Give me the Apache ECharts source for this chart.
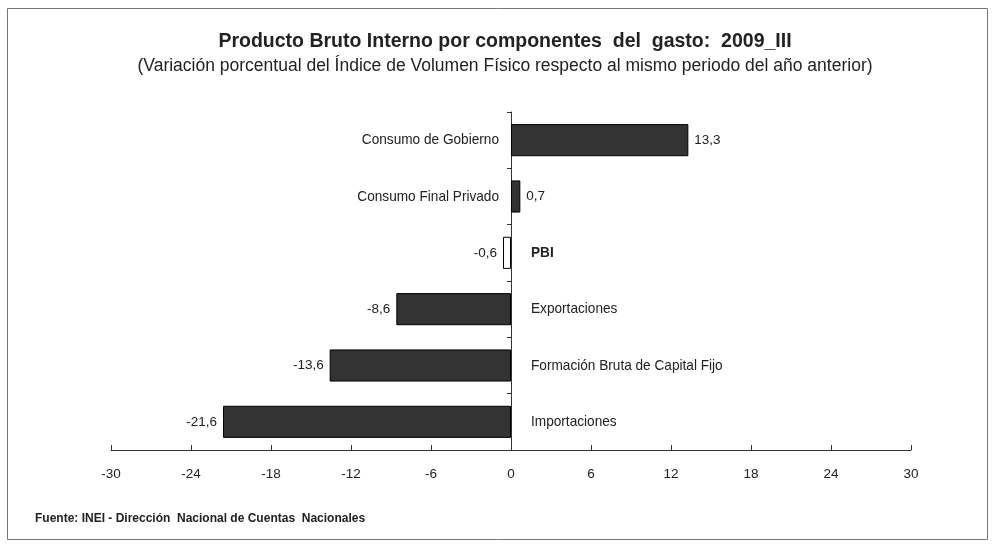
<!DOCTYPE html>
<html>
<head>
<meta charset="utf-8">
<script src="https://cdn.jsdelivr.net/npm/echarts@6/dist/echarts.min.js"></script>
<style>
html,body{margin:0;padding:0;background:#fff;}
#chart{width:996px;height:548px;}
</style>
</head>
<body>
<div id="chart"></div>
<script>
var categories = ['Consumo de Gobierno', 'Consumo Final Privado', 'PBI', 'Exportaciones', 'Formación Bruta de Capital Fijo', 'Importaciones'];
var values = [13.3, 0.7, -0.6, -8.6, -13.6, -21.6];
var highlight = ['PBI'];
var xTicks = [-30, -24, -18, -12, -6, 0, 6, 12, 18, 24, 30];

var FONT = '"Liberation Sans Narrow", "Arial Narrow", "Liberation Sans", Arial, sans-serif';
var chart = echarts.init(document.getElementById('chart'));

function fmt(v){ return v.toFixed(1).replace('.', ','); }

var barData = values.map(function(v, i){
  var isHi = highlight.indexOf(categories[i]) >= 0;
  return {
    value: v,
    itemStyle: { color: isHi ? '#ffffff' : '#333333', borderColor: '#000', borderWidth: 1 },
    label: { position: v >= 0 ? 'right' : 'left' }
  };
});

var option = {
  animation: false,
  backgroundColor: '#fff',
  title: [{
    text: 'Producto Bruto Interno por componentes  del  gasto:  2009_III',
    left: 500, top: 27, textAlign: 'center',
    textStyle: { fontFamily: FONT, fontSize: 19.5, fontWeight: 'bold', color: '#222' }
  }, {
    text: '(Variación porcentual del Índice de Volumen Físico respecto al mismo periodo del año anterior)',
    left: 500, top: 52, textAlign: 'center',
    textStyle: { fontFamily: FONT, fontSize: 17.5, fontWeight: 'normal', color: '#222' }
  }, {
    text: 'Fuente: INEI - Dirección  Nacional de Cuentas  Nacionales',
    left: 30, top: 508,
    textStyle: { fontFamily: FONT, fontSize: 12, fontWeight: 'bold', color: '#222' }
  }],
  graphic: [{
    type: 'rect', shape: { x: 7.5, y: 8.5, width: 980, height: 531 },
    style: { fill: 'none', stroke: '#777', lineWidth: 1 }, silent: true
  }],
  grid: { left: 111, right: 85, top: 112, bottom: 98 },
  xAxis: {
    type: 'value', min: -30, max: 30, interval: 6,
    axisLine: { show: true, lineStyle: { color: '#333', width: 1 } },
    axisTick: { show: true, inside: true, length: 5, lineStyle: { color: '#333' } },
    splitLine: { show: false },
    axisLabel: { fontFamily: FONT, fontSize: 13.5, color: '#222', margin: 17,
      customValues: xTicks }
  },
  yAxis: {
    type: 'category', data: categories, inverse: true,
    axisLine: { show: true, onZero: true, lineStyle: { color: '#333', width: 1 } },
    axisTick: { show: true, length: 4, lineStyle: { color: '#333' } },
    axisLabel: { show: false }
  },
  series: [{
    type: 'bar',
    data: barData,
    barCategoryGap: '43%',
    label: {
      show: true, distance: 6, fontFamily: FONT, fontSize: 13.5, color: '#222',
      formatter: function(p){ return fmt(p.value); }
    }
  }, {
    type: 'custom',
    data: values.map(function(v, i){ return [0, i, v]; }),
    encode: { x: 0, y: 1 },
    renderItem: function(params, api){
      var idx = api.value(1);
      var v = api.value(2);
      var pt = api.coord([0, idx]);
      var name = categories[idx];
      var isHi = highlight.indexOf(name) >= 0;
      return {
        type: 'text',
        x: v >= 0 ? pt[0] - 12 : pt[0] + 20,
        y: pt[1],
        scaleX: 0.94,
        style: {
          text: name,
          textAlign: v >= 0 ? 'right' : 'left',
          textVerticalAlign: 'middle',
          font: (isHi ? 'bold ' : '') + '14.5px ' + FONT,
          fill: '#222'
        }
      };
    }
  }]
};
chart.setOption(option);
</script>
</body>
</html>
